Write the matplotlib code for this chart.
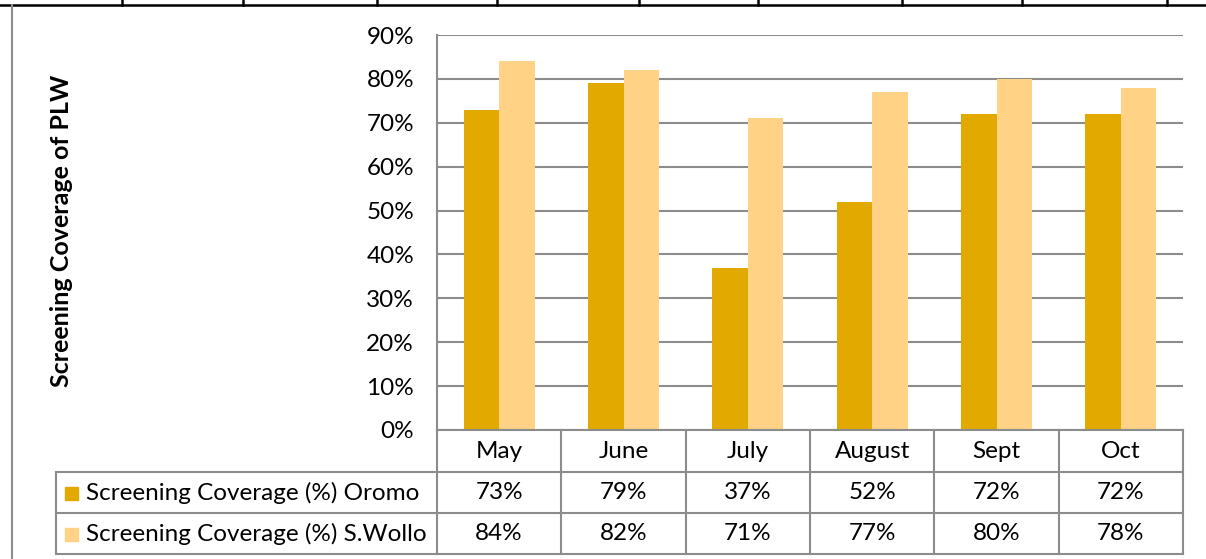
import matplotlib.pyplot as plt
from matplotlib.patches import Rectangle
from matplotlib.lines import Line2D

plt.rcParams['font.family'] = ['Lato', 'DejaVu Sans']

months = ['May', 'June', 'July', 'August', 'Sept', 'Oct']
oromo = [73, 79, 37, 52, 72, 72]
swollo = [84, 82, 71, 77, 80, 78]
series_names = ['Screening Coverage (%) Oromo', 'Screening Coverage (%) S.Wollo']
colors = ['#E2A900', '#FFD285']

W, H = 1206, 559
fig = plt.figure(figsize=(W / 100, H / 100), dpi=100)


def fx(x):
    return x / W


def fy(y):
    return 1 - y / H


left, right, top, bottom = 437, 1183, 35, 430
ax = fig.add_axes([fx(left), fy(bottom), fx(right - left), (bottom - top) / H])

n = len(months)
bw = 1 / 3.5
xs = list(range(n))
ax.bar([x - bw / 2 for x in xs], [v / 100 for v in oromo], bw, color=colors[0], zorder=3)
ax.bar([x + bw / 2 for x in xs], [v / 100 for v in swollo], bw, color=colors[1], zorder=3)
ax.set_xlim(-0.5, n - 0.5)
ax.set_ylim(0, 0.9)
ticks = [i / 10 for i in range(10)]
ax.set_yticks(ticks)
ax.set_yticklabels([f'{int(t * 100)}%' for t in ticks], fontsize=17.5)
ax.tick_params(axis='y', length=0, pad=16.5)
ax.set_xticks([])
ax.grid(axis='y', color='#8C8C8C', linewidth=1.5, zorder=0)
for s in ['top', 'right', 'bottom']:
    ax.spines[s].set_visible(False)
ax.spines['left'].set_color('#8C8C8C')
ax.spines['left'].set_linewidth(1.5)

fig.text(fx(62), fy(231), 'Screening Coverage of PLW', rotation=90, fontsize=18,
         fontweight='bold', ha='center', va='center')

# data table below the axis
gray = '#8C8C8C'
row_y = [430, 472, 513, 554]
col_w = (right - left) / n
tbl_left = 56


def hline(x0, x1, y, color=gray, lw=1.5):
    fig.add_artist(Line2D([fx(x0), fx(x1)], [fy(y), fy(y)], color=color, lw=lw))


def vline(x, y0, y1, color=gray, lw=1.5):
    fig.add_artist(Line2D([fx(x), fx(x)], [fy(y0), fy(y1)], color=color, lw=lw))


hline(left, right, row_y[0])
hline(tbl_left, right, row_y[1])
hline(tbl_left, right, row_y[2])
hline(tbl_left, right, row_y[3])
for i in range(n + 1):
    vline(left + i * col_w, row_y[0], row_y[3])
vline(tbl_left, row_y[1], row_y[3])

for i, m in enumerate(months):
    fig.text(fx(left + (i + 0.5) * col_w), fy((row_y[0] + row_y[1]) / 2), m,
             fontsize=17.5, ha='center', va='center')

for r, vals in enumerate([oromo, swollo]):
    yc = (row_y[r + 1] + row_y[r + 2]) / 2
    fig.add_artist(Rectangle((fx(65), fy(yc + 7)), fx(13), 13 / H, color=colors[r]))
    fig.text(fx(86), fy(yc), series_names[r], fontsize=17.5, ha='left', va='center')
    for i, v in enumerate(vals):
        fig.text(fx(left + (i + 0.5) * col_w), fy(yc), f'{v}%', fontsize=17.5,
                 ha='center', va='center')

# frame pieces from the surrounding page
hline(0, W, 4.5, color='black', lw=1.8)
for x in [122, 243, 377, 497, 639, 758, 902, 1022, 1167]:
    vline(x, 0, 5, color='black', lw=1.8)
vline(12, 5, H, color=gray, lw=1.5)

fig.savefig('out.png', dpi=100)
